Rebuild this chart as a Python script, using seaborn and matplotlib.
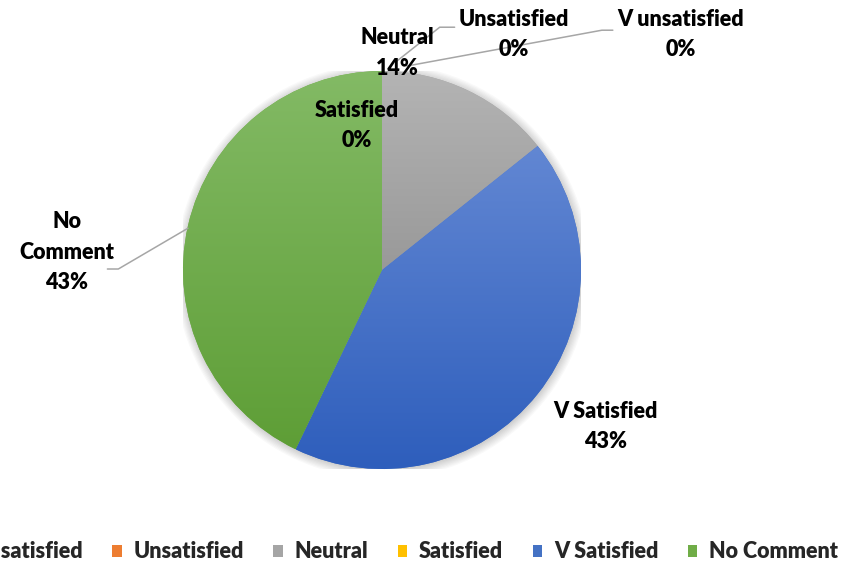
import numpy as np
import matplotlib
matplotlib.use("Agg")
import matplotlib.pyplot as plt
import seaborn as sns
from matplotlib.colors import LinearSegmentedColormap
from matplotlib.patches import Patch, Circle

# Survey responses per satisfaction level
categories = ["V unsatisfied", "Unsatisfied", "Neutral", "Satisfied", "V Satisfied", "No Comment"]
responses = [0, 0, 1, 0, 3, 3]

sns.set_theme(style="white")
plt.rcParams["font.family"] = ["Lato", "DejaVu Sans"]

base_colors = ["#5b9bd5", "#ed7d31", "#a5a5a5", "#ffc000", "#4472c4", "#70ad47"]
# top / bottom shades used for the vertical gradient fill of each slice
grad_top = ["#7db1e0", "#f19a5c", "#b4b4b4", "#ffcd40", "#6287d3", "#83ba65"]
grad_bot = ["#4586c8", "#d96a20", "#999999", "#e6ac00", "#2e5ebc", "#5e9e36"]

W, H = 842, 565
fig = plt.figure(figsize=(W / 100, H / 100), dpi=100)
cx, cy, R = 382, 270, 199
ax = fig.add_axes([(cx - R) / W, (H - cy - R) / H, 2 * R / W, 2 * R / H])

# soft shadow behind the pie
for k in range(8):
    ax.add_patch(Circle((0.004, -0.006), 1.0 + 0.006 * k, color="black",
                        alpha=0.025, lw=0, zorder=0))

wedges, _ = ax.pie(responses, startangle=90, counterclock=False,
                   colors=base_colors, radius=1,
                   wedgeprops=dict(linewidth=0, zorder=1))

for w, v, ct, cb in zip(wedges, responses, grad_top, grad_bot):
    if v == 0:
        continue
    bb = w.get_path().get_extents()
    cmap = LinearSegmentedColormap.from_list("g", [cb, ct])
    grad = np.linspace(0, 1, 256).reshape(-1, 1)
    im = ax.imshow(grad, cmap=cmap, extent=[bb.x0, bb.x1, bb.y0, bb.y1],
                   origin="lower", aspect="auto", zorder=2, interpolation="bilinear")
    im.set_clip_path(w)

ax.set_xlim(-1, 1)
ax.set_ylim(-1, 1)
ax.axis("off")

FS = 15.5
total = sum(responses)
label_pos = {
    "V unsatisfied": (1.50, 1.185),
    "Unsatisfied": (0.66, 1.185),
    "Neutral": (0.075, 1.09),
    "Satisfied": (-0.125, 0.725),
    "V Satisfied": (1.125, -0.785),
    "No Comment": (-1.585, 0.09),
}
for cat, v in zip(categories, responses):
    name = "No\nComment" if cat == "No Comment" else cat
    x, y = label_pos[cat]
    ax.text(x, y, f"{name}\n{round(100 * v / total)}%", ha="center", va="center",
            fontsize=FS, fontweight="heavy", color="black", linespacing=1.55,
            zorder=5, clip_on=False)

# leader lines
leaders = [
    ([0.075, 0.29, 0.365], [1.05, 1.22, 1.22]),
    ([0.125, 1.105, 1.16], [1.025, 1.205, 1.205]),
    ([-0.975, -1.325, -1.38], [0.21, 0.005, 0.005]),
]
for xs, ys in leaders:
    ax.plot(xs, ys, color="#a6a6a6", lw=1.1, clip_on=False, zorder=4)

handles = [Patch(facecolor=c, edgecolor="none") for c in base_colors]
fig.legend(handles, categories, ncol=6, loc="center",
           bbox_to_anchor=(0.459, 1 - 552 / H), frameon=False,
           prop=dict(weight="heavy", size=FS),
           handlelength=0.45, handleheight=0.45, handletextpad=0.55,
           columnspacing=1.36)

fig.savefig("out.png", dpi=100, facecolor="white")
